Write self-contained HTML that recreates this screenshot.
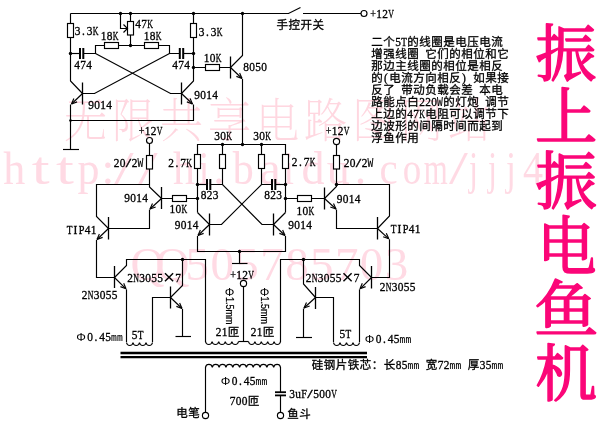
<!DOCTYPE html>
<html lang="zh"><head><meta charset="utf-8"><title>振上振电鱼机</title>
<style>
html,body{margin:0;padding:0;background:#fff}
svg{display:block;will-change:transform}
text{text-anchor:middle}
.r{font:10px "Liberation Sans",sans-serif;text-anchor:start;stroke:#000;stroke-width:.2px}
.lab .l{stroke:#000;stroke-width:.3px}
.lab .m{stroke:#000;stroke-width:.1px}
.lab .c{stroke:#000;stroke-width:.3px}
.lab .p{stroke-width:0}
.m{font:10px "Liberation Mono",monospace}
.l{font:11.5px "Liberation Serif",serif}
.c{font:11.5px "Liberation Sans","Noto Sans CJK SC",sans-serif}
.wm{fill:#ffdae4}
.wmc text{fill:#ffd7e0;font:200 48px "Liberation Serif","Noto Serif CJK SC",serif}
.wml text{font-family: "Liberation Serif","Noto Serif CJK SC",serif}
.title text{font:400 65px "Liberation Serif","Noto Serif CJK SC",serif;fill:#fb0678;stroke:#fb0678;stroke-width:1.7px;stroke-linejoin:round}
</style></head>
<body>
<svg width="614" height="435" viewBox="0 0 614 435">
<rect width="614" height="435" fill="#fff"/>
<g class="wm">
<g class="wmc">
<text transform="translate(85.5 137) scale(.9 .97)">无</text>
<text transform="translate(133.5 137) scale(.9 .97)">限</text>
<text transform="translate(181.5 137) scale(.9 .97)">共</text>
<text transform="translate(229.5 137) scale(.9 .97)">享</text>
<text transform="translate(277.5 137) scale(.9 .97)">电</text>
<text transform="translate(325.5 137) scale(.9 .97)">路</text>
<text transform="translate(373.5 137) scale(.9 .97)">图</text>
<text transform="translate(421.5 137) scale(.9 .97)">网</text>
<text transform="translate(469.5 137) scale(.9 .97)">站</text>
</g><g class="wml">
<text transform="translate(14.3 184) scale(0.957 1)" font-size="46">h</text>
<text transform="translate(40.7 184) scale(1.398 1)" font-size="46">t</text>
<text transform="translate(64.9 184) scale(1.398 1)" font-size="46">t</text>
<text transform="translate(88.5 184) scale(0.957 1)" font-size="46">p</text>
<text transform="translate(107.9 184) scale(1.000 1)" font-size="46">:</text>
<text transform="translate(123.9 184) scale(1.514 1)" font-size="46">/</text>
<text transform="translate(147.9 184) scale(1.514 1)" font-size="46">/</text>
<text transform="translate(184.0 184) scale(0.957 1)" font-size="46">h</text>
<text transform="translate(204.0 184) scale(0.823 1)" font-size="46">i</text>
<text transform="translate(219.0 184) scale(1.000 1)" font-size="46">.</text>
<text transform="translate(243.3 184) scale(0.913 1)" font-size="46">b</text>
<text transform="translate(270.1 184) scale(1.038 1)" font-size="46">a</text>
<text transform="translate(288.8 184) scale(0.815 1)" font-size="46">i</text>
<text transform="translate(313.0 184) scale(1.000 1)" font-size="46">d</text>
<text transform="translate(338.3 184) scale(1.000 1)" font-size="46">u</text>
<text transform="translate(360.4 184) scale(1.000 1)" font-size="46">.</text>
<text transform="translate(388.6 184) scale(0.889 1)" font-size="46">c</text>
<text transform="translate(412.0 184) scale(0.804 1)" font-size="46">o</text>
<text transform="translate(435.7 184) scale(0.669 1)" font-size="46">m</text>
<text transform="translate(458.4 184) scale(1.475 1)" font-size="46">/</text>
<text transform="translate(473.4 184) scale(0.701 1)" font-size="46">j</text>
<text transform="translate(492.4 184) scale(0.701 1)" font-size="46">j</text>
<text transform="translate(511.0 184) scale(0.771 1)" font-size="46">j</text>
<text transform="translate(533.0 184) scale(0.870 1)" font-size="46">4</text>
<text x="147.5" y="280" font-size="47">Q</text>
<text x="172.4" y="280" font-size="47">Q</text>
<text x="197.3" y="280" font-size="47">5</text>
<text x="222.2" y="280" font-size="47">0</text>
<text x="247.1" y="280" font-size="47">5</text>
<text x="272" y="280" font-size="47">7</text>
<text x="296.9" y="280" font-size="47">8</text>
<text x="321.8" y="280" font-size="47">5</text>
<text x="346.7" y="280" font-size="47">7</text>
<text x="371.6" y="280" font-size="47">0</text>
<text x="396.5" y="280" font-size="47">3</text>
</g></g>
<g fill="none" stroke="#000" stroke-width="1.15" stroke-linecap="butt">
<path d="M70.5 13.5 L288.5 13.5 L300.5 7.5" stroke-width="1.15" />
<path d="M303 13.5 L361 13.5" stroke-width="1.15" />
<circle cx="364" cy="13.5" r="3" fill="#fff"/>
<path d="M70.5 13.5 L70.5 81 L82.5 93.5" stroke-width="1.15" />
<rect x="67.5" y="23.5" width="6" height="14" fill="#fff"/>
<path d="M193.5 13.5 L193.5 81 L181.5 93.5" stroke-width="1.15" />
<rect x="190.5" y="23.5" width="6" height="14" fill="#fff"/>
<path d="M70.5 53.5 L79.5 53.5" stroke-width="1.15" />
<path d="M80 48 L80 59" stroke-width="2" />
<path d="M83.3 48 L83.3 59" stroke-width="2" />
<path d="M83.5 53.5 L95.5 53.5 L95.5 45.5 L169.5 45.5 L169.5 53.5 L179.5 53.5" stroke-width="1.15" />
<path d="M179.8 48 L179.8 59" stroke-width="2" />
<path d="M183.2 48 L183.2 59" stroke-width="2" />
<path d="M183.5 53.5 L193.5 53.5" stroke-width="1.15" />
<rect x="104.5" y="42.5" width="14" height="6" fill="#fff"/>
<rect x="144.5" y="42.5" width="14" height="6" fill="#fff"/>
<path d="M130.5 13.5 L130.5 45.5" stroke-width="1.15" />
<rect x="127.5" y="21.5" width="6" height="13.5" fill="#fff"/>
<path d="M120.5 13.5 L120.5 28.5 L127.5 28.5" stroke-width="1.15" />
<path d="M123.5 24.5 L127.5 28.5 L123.5 32.5" stroke-width="1.15" />
<path d="M95.5 53.5 L170.5 93.5 L181.5 93.5" stroke-width="1.15" />
<path d="M169.5 53.5 L94.5 93.5 L82.5 93.5" stroke-width="1.15" />
<path d="M82.5 82.5 L82.5 104.5" stroke-width="1.3" />
<path d="M82.5 93.5 L71.5 104" stroke-width="1.15" />
<path d="M71.5 104 L73.8764 98.4907" stroke-width="1.15" />
<path d="M71.5 104 L77.1139 101.882" stroke-width="1.15" />
<path d="M70.5 104.5 L70.5 149.5" stroke-width="1.15" />
<path d="M63 149.5 L79 149.5" stroke-width="1.15" />
<path d="M181.5 82.5 L181.5 104.5" stroke-width="1.3" />
<path d="M181.5 93.5 L192.5 104" stroke-width="1.15" />
<path d="M192.5 104 L186.886 101.882" stroke-width="1.15" />
<path d="M192.5 104 L190.124 98.4907" stroke-width="1.15" />
<path d="M193.5 104.5 L193.5 120.5 L70.5 120.5" stroke-width="1.15" />
<path d="M193.5 67.5 L230.5 67.5" stroke-width="1.15" />
<rect x="205.5" y="64.5" width="14" height="6" fill="#fff"/>
<path d="M230.5 56.5 L230.5 78.5" stroke-width="1.3" />
<path d="M242.5 13.5 L242.5 55.5 L230.5 67.5" stroke-width="1.15" />
<path d="M230.5 67.5 L242 78.5" stroke-width="1.15" />
<path d="M242 78.5 L236.388 76.3765" stroke-width="1.15" />
<path d="M242 78.5 L239.629 72.9882" stroke-width="1.15" />
<path d="M242.5 79 L242.5 144.5" stroke-width="1.15" />
<circle cx="70.5" cy="53.5" r="1.7" fill="#000" stroke="none"/>
<circle cx="193.5" cy="53.5" r="1.7" fill="#000" stroke="none"/>
<circle cx="130.5" cy="45.5" r="1.7" fill="#000" stroke="none"/>
<circle cx="120.5" cy="13.5" r="1.7" fill="#000" stroke="none"/>
<circle cx="130.5" cy="13.5" r="1.7" fill="#000" stroke="none"/>
<circle cx="193.5" cy="13.5" r="1.7" fill="#000" stroke="none"/>
<circle cx="193.5" cy="67.5" r="1.7" fill="#000" stroke="none"/>
<circle cx="242.5" cy="13.5" r="1.7" fill="#000" stroke="none"/>
<circle cx="70.5" cy="120.5" r="1.3" fill="#000" stroke="none"/>
<path d="M197.5 212.5 L197.5 144.5 L285.5 144.5 L285.5 212.5" stroke-width="1.15" />
<path d="M222.5 144.5 L222.5 184.5" stroke-width="1.15" />
<path d="M261.5 144.5 L261.5 184.5" stroke-width="1.15" />
<rect x="194.5" y="154.5" width="6" height="14" fill="#fff"/>
<rect x="219.5" y="154.5" width="6" height="14" fill="#fff"/>
<rect x="258.5" y="154.5" width="6" height="14" fill="#fff"/>
<rect x="282.5" y="154.5" width="6" height="14" fill="#fff"/>
<path d="M197.5 184.5 L207 184.5" stroke-width="1.15" />
<path d="M207 179 L207 190" stroke-width="2" />
<path d="M210.3 179 L210.3 190" stroke-width="2" />
<path d="M210.5 184.5 L222.5 184.5 L262 224.5 L273.5 224.5" stroke-width="1.15" />
<path d="M285.5 184.5 L275.5 184.5" stroke-width="1.15" />
<path d="M272 179 L272 190" stroke-width="2" />
<path d="M275.3 179 L275.3 190" stroke-width="2" />
<path d="M272 184.5 L261.5 184.5 L221.5 224.5 L209.5 224.5" stroke-width="1.15" />
<path d="M209.5 213.5 L209.5 235.5" stroke-width="1.3" />
<path d="M197.5 212.5 L209.5 224.5" stroke-width="1.15" />
<path d="M209.5 224.5 L198 235.5" stroke-width="1.15" />
<path d="M198 235.5 L200.371 229.988" stroke-width="1.15" />
<path d="M198 235.5 L203.612 233.377" stroke-width="1.15" />
<path d="M273.5 213.5 L273.5 235.5" stroke-width="1.3" />
<path d="M285.5 212.5 L273.5 224.5" stroke-width="1.15" />
<path d="M273.5 224.5 L285 235.5" stroke-width="1.15" />
<path d="M285 235.5 L279.388 233.377" stroke-width="1.15" />
<path d="M285 235.5 L282.629 229.988" stroke-width="1.15" />
<path d="M197.5 236 L197.5 251.5 L285.5 251.5 L285.5 236" stroke-width="1.15" />
<path d="M239.5 251.5 L239.5 263.5" stroke-width="1.15" />
<path d="M232 263.5 L247.5 263.5" stroke-width="1.15" />
<circle cx="242.5" cy="144.5" r="1.7" fill="#000" stroke="none"/>
<circle cx="222.5" cy="144.5" r="1.7" fill="#000" stroke="none"/>
<circle cx="261.5" cy="144.5" r="1.7" fill="#000" stroke="none"/>
<circle cx="197.5" cy="184.5" r="1.7" fill="#000" stroke="none"/>
<circle cx="285.5" cy="184.5" r="1.7" fill="#000" stroke="none"/>
<circle cx="197.5" cy="198.5" r="1.7" fill="#000" stroke="none"/>
<circle cx="285.5" cy="198.5" r="1.7" fill="#000" stroke="none"/>
<circle cx="239.5" cy="251.5" r="1.7" fill="#000" stroke="none"/>
<circle cx="149.5" cy="140.5" r="3" fill="#fff"/>
<path d="M149.5 143.5 L149.5 187 L161.5 198.5" stroke-width="1.15" />
<rect x="146.5" y="155.5" width="6" height="13.5" fill="#fff"/>
<path d="M149.5 184.5 L96.5 184.5 L96.5 216.5 L108.5 228.5" stroke-width="1.15" />
<path d="M161.5 187 L161.5 209" stroke-width="1.3" />
<path d="M161.5 198.5 L150 209" stroke-width="1.15" />
<path d="M150 209 L152.498 203.545" stroke-width="1.15" />
<path d="M150 209 L155.659 207.007" stroke-width="1.15" />
<path d="M149.5 209.5 L149.5 228.5 L108.5 228.5" stroke-width="1.15" />
<path d="M161.5 198.5 L197.5 198.5" stroke-width="1.15" />
<rect x="172.5" y="195.5" width="14" height="6" fill="#fff"/>
<path d="M108.5 217 L108.5 239.5" stroke-width="1.3" />
<path d="M108.5 228.5 L97 239.5" stroke-width="1.15" />
<path d="M97 239.5 L99.3707 233.988" stroke-width="1.15" />
<path d="M97 239.5 L102.612 237.377" stroke-width="1.15" />
<path d="M96.5 240 L96.5 277.5 L114.5 277.5" stroke-width="1.15" />
<path d="M114.5 266 L114.5 288" stroke-width="1.3" />
<path d="M114.5 277.5 L126.5 265.5 L126.5 259.5 L205.5 259.5 L205.5 342" stroke-width="1.15" />
<path d="M114.5 277.5 L126 288.8" stroke-width="1.15" />
<path d="M126 288.8 L120.417 286.601" stroke-width="1.15" />
<path d="M126 288.8 L123.704 283.257" stroke-width="1.15" />
<path d="M126.5 289.3 L126.5 342" stroke-width="1.15" />
<path d="M182.5 259.5 L182.5 285.5 L170.5 297.5" stroke-width="1.15" />
<path d="M170.5 286.5 L170.5 308.5" stroke-width="1.3" />
<path d="M170.5 297.5 L152.5 297.5 L152.5 342" stroke-width="1.15" />
<path d="M170.5 297.5 L182 308.5" stroke-width="1.15" />
<path d="M182 308.5 L176.388 306.377" stroke-width="1.15" />
<path d="M182 308.5 L179.629 302.988" stroke-width="1.15" />
<path d="M182.5 309 L182.5 336.5" stroke-width="1.15" />
<path d="M175.5 336.5 L191 336.5" stroke-width="1.15" />
<circle cx="182.5" cy="259.5" r="1.7" fill="#000" stroke="none"/>
<path d="M126.5 342.5 C127.15 346.49 132.35 346.49 133 342.5 C133.65 346.49 138.85 346.49 139.5 342.5 C140.15 346.49 145.35 346.49 146 342.5 C146.65 346.49 151.85 346.49 152.5 342.5"/>
<circle cx="336.5" cy="141.5" r="3.1" fill="#fff"/>
<path d="M336.5 144.5 L336.5 186.5 L324.5 198.5" stroke-width="1.15" />
<rect x="333.5" y="155.5" width="6" height="13.5" fill="#fff"/>
<path d="M336.5 184.5 L389.5 184.5 L389.5 216 L377.5 228.5" stroke-width="1.15" />
<path d="M324.5 187.5 L324.5 209.5" stroke-width="1.3" />
<path d="M324.5 198.5 L336 209" stroke-width="1.15" />
<path d="M336 209 L330.341 207.007" stroke-width="1.15" />
<path d="M336 209 L333.502 203.545" stroke-width="1.15" />
<path d="M336.5 209.5 L336.5 228.5 L377.5 228.5" stroke-width="1.15" />
<path d="M285.5 198.5 L324.5 198.5" stroke-width="1.15" />
<rect x="297.5" y="195.5" width="14" height="6" fill="#fff"/>
<path d="M377.5 217 L377.5 239.5" stroke-width="1.3" />
<path d="M377.5 228.5 L388.8 238.8" stroke-width="1.15" />
<path d="M388.8 238.8 L383.139 236.812" stroke-width="1.15" />
<path d="M388.8 238.8 L386.297 233.347" stroke-width="1.15" />
<path d="M389.5 239.3 L389.5 277.5 L371.5 277.5" stroke-width="1.15" />
<path d="M371.5 266 L371.5 288.5" stroke-width="1.3" />
<path d="M371.5 277.5 L359.5 265.5 L359.5 259.5 L280.5 259.5 L280.5 342" stroke-width="1.15" />
<path d="M371.5 277.5 L360 288.8" stroke-width="1.15" />
<path d="M360 288.8 L362.296 283.257" stroke-width="1.15" />
<path d="M360 288.8 L365.583 286.601" stroke-width="1.15" />
<path d="M359.5 289.3 L359.5 342" stroke-width="1.15" />
<path d="M303.5 259.5 L303.5 284 L315.5 297.5" stroke-width="1.15" />
<path d="M315.5 287 L315.5 309" stroke-width="1.3" />
<path d="M315.5 297.5 L333.5 297.5 L333.5 342" stroke-width="1.15" />
<path d="M315.5 297.5 L304 308" stroke-width="1.15" />
<path d="M304 308 L306.498 302.545" stroke-width="1.15" />
<path d="M304 308 L309.659 306.007" stroke-width="1.15" />
<path d="M303.5 308.5 L303.5 337.5" stroke-width="1.15" />
<path d="M296 337.5 L312 337.5" stroke-width="1.15" />
<circle cx="303.5" cy="259.5" r="1.7" fill="#000" stroke="none"/>
<circle cx="336.5" cy="184.5" r="1.7" fill="#000" stroke="none"/>
<path d="M333.5 342.5 C334.15 346.49 339.35 346.49 340 342.5 C340.65 346.49 345.85 346.49 346.5 342.5 C347.15 346.49 352.35 346.49 353 342.5 C353.65 346.49 358.85 346.49 359.5 342.5"/>
<circle cx="243.5" cy="283.5" r="3.1" fill="#fff"/>
<path d="M243.5 286.5 L243.5 341.5" stroke-width="1.15" />
<path d="M205.5 341.5 C206.16 345.49 211.44 345.49 212.1 341.5 C212.76 345.49 218.04 345.49 218.7 341.5 C219.36 345.49 224.64 345.49 225.3 341.5 C225.96 345.49 231.24 345.49 231.9 341.5 C232.56 345.49 237.84 345.49 238.5 341.5"/>
<path d="M238.5 341.5 L248.5 341.5" stroke-width="1.15" />
<path d="M248.5 341.5 C249.14 345.49 254.26 345.49 254.9 341.5 C255.54 345.49 260.66 345.49 261.3 341.5 C261.94 345.49 267.06 345.49 267.7 341.5 C268.34 345.49 273.46 345.49 274.1 341.5 C274.74 345.49 279.86 345.49 280.5 341.5"/>
<path d="M120.5 353 L367 353" stroke-width="2.3" />
<path d="M120.5 357.1 L367 357.1" stroke-width="2.3" />
<path d="M205.5 367.3 C206.182 363.443 211.636 363.443 212.318 367.3 C213 363.443 218.455 363.443 219.136 367.3 C219.818 363.443 225.273 363.443 225.955 367.3 C226.636 363.443 232.091 363.443 232.773 367.3 C233.455 363.443 238.909 363.443 239.591 367.3 C240.273 363.443 245.727 363.443 246.409 367.3 C247.091 363.443 252.545 363.443 253.227 367.3 C253.909 363.443 259.364 363.443 260.045 367.3 C260.727 363.443 266.182 363.443 266.864 367.3 C267.545 363.443 273 363.443 273.682 367.3 C274.364 363.443 279.818 363.443 280.5 367.3"/>
<path d="M205.5 367 L205.5 412" stroke-width="1.15" />
<circle cx="205.5" cy="415.5" r="3.1" fill="#fff"/>
<path d="M280.5 367 L280.5 392" stroke-width="1.15" />
<path d="M275 392.2 L286 392.2" stroke-width="1.8" />
<path d="M275 395.4 L286 395.4" stroke-width="1.8" />
<path d="M280.5 395.5 L280.5 412.5" stroke-width="1.15" />
<circle cx="280.5" cy="415.5" r="3.1" fill="#fff"/>
</g>
<g class="lab">
<text transform="translate(77.5 35) scale(0.991 1)" class="l">3</text><text x="83.5" y="35" class="l">.</text><text transform="translate(89.5 35) scale(0.991 1)" class="l">3</text><text transform="translate(95.5 35) scale(0.686 1)" class="l">K</text>
<text transform="translate(201.5 35.5) scale(0.991 1)" class="l">3</text><text x="207.5" y="35.5" class="l">.</text><text transform="translate(213.5 35.5) scale(0.991 1)" class="l">3</text><text transform="translate(219.5 35.5) scale(0.686 1)" class="l">K</text>
<text transform="translate(138 27.5) scale(0.991 1)" class="l">4</text><text transform="translate(144 27.5) scale(0.991 1)" class="l">7</text><text transform="translate(150 27.5) scale(0.686 1)" class="l">K</text>
<text transform="translate(103.5 40) scale(0.991 1)" class="l">1</text><text transform="translate(109.5 40) scale(0.991 1)" class="l">8</text><text transform="translate(115.5 40) scale(0.686 1)" class="l">K</text>
<text transform="translate(146.5 40) scale(0.991 1)" class="l">1</text><text transform="translate(152.5 40) scale(0.991 1)" class="l">8</text><text transform="translate(158.5 40) scale(0.686 1)" class="l">K</text>
<text transform="translate(77 68.6) scale(0.991 1)" class="l">4</text><text transform="translate(83 68.6) scale(0.991 1)" class="l">7</text><text transform="translate(89 68.6) scale(0.991 1)" class="l">4</text>
<text transform="translate(175 68.6) scale(0.991 1)" class="l">4</text><text transform="translate(181 68.6) scale(0.991 1)" class="l">7</text><text transform="translate(187 68.6) scale(0.991 1)" class="l">4</text>
<text transform="translate(91 109) scale(0.991 1)" class="l">9</text><text transform="translate(97 109) scale(0.991 1)" class="l">0</text><text transform="translate(103 109) scale(0.991 1)" class="l">1</text><text transform="translate(109 109) scale(0.991 1)" class="l">4</text>
<text transform="translate(197 98.5) scale(0.991 1)" class="l">9</text><text transform="translate(203 98.5) scale(0.991 1)" class="l">0</text><text transform="translate(209 98.5) scale(0.991 1)" class="l">1</text><text transform="translate(215 98.5) scale(0.991 1)" class="l">4</text>
<text transform="translate(206.5 61.5) scale(0.991 1)" class="l">1</text><text transform="translate(212.5 61.5) scale(0.991 1)" class="l">0</text><text transform="translate(218.5 61.5) scale(0.686 1)" class="l">K</text>
<text transform="translate(246 70.5) scale(0.991 1)" class="l">8</text><text transform="translate(252 70.5) scale(0.991 1)" class="l">0</text><text transform="translate(258 70.5) scale(0.991 1)" class="l">5</text><text transform="translate(264 70.5) scale(0.991 1)" class="l">0</text>
<text transform="translate(373 17.5) scale(0.879 1)" class="l">+</text><text transform="translate(379 17.5) scale(0.991 1)" class="l">1</text><text transform="translate(385 17.5) scale(0.991 1)" class="l">2</text><text transform="translate(391 17.5) scale(0.686 1)" class="l">V</text>
<text x="282.3" y="28.8" class="c">手</text><text x="294.3" y="28.8" class="c">控</text><text x="306.3" y="28.8" class="c">开</text><text x="318.3" y="28.8" class="c">关</text>
<text transform="translate(141.5 134.5) scale(0.879 1)" class="l">+</text><text transform="translate(147.5 134.5) scale(0.991 1)" class="l">1</text><text transform="translate(153.5 134.5) scale(0.991 1)" class="l">2</text><text transform="translate(159.5 134.5) scale(0.686 1)" class="l">V</text>
<text transform="translate(328.5 134.5) scale(0.879 1)" class="l">+</text><text transform="translate(334.5 134.5) scale(0.991 1)" class="l">1</text><text transform="translate(340.5 134.5) scale(0.991 1)" class="l">2</text><text transform="translate(346.5 134.5) scale(0.686 1)" class="l">V</text>
<text transform="translate(233 278.5) scale(0.879 1)" class="l">+</text><text transform="translate(239 278.5) scale(0.991 1)" class="l">1</text><text transform="translate(245 278.5) scale(0.991 1)" class="l">2</text><text transform="translate(251 278.5) scale(0.686 1)" class="l">V</text>
<text transform="translate(116.5 167) scale(0.991 1)" class="l">2</text><text transform="translate(122.5 167) scale(0.991 1)" class="l">0</text><text transform="translate(128.5 167) scale(1.7 1)" class="l">/</text><text transform="translate(134.5 167) scale(0.991 1)" class="l">2</text><text transform="translate(140.5 167) scale(.97 1.2)" class="m">W</text>
<text transform="translate(346.5 166.5) scale(0.991 1)" class="l">2</text><text transform="translate(352.5 166.5) scale(0.991 1)" class="l">0</text><text transform="translate(358.5 166.5) scale(1.7 1)" class="l">/</text><text transform="translate(364.5 166.5) scale(0.991 1)" class="l">2</text><text transform="translate(370.5 166.5) scale(.97 1.2)" class="m">W</text>
<text transform="translate(171 166.5) scale(0.991 1)" class="l">2</text><text x="177" y="166.5" class="l">.</text><text transform="translate(183 166.5) scale(0.991 1)" class="l">7</text><text transform="translate(189 166.5) scale(0.686 1)" class="l">K</text>
<text transform="translate(294.5 166) scale(0.991 1)" class="l">2</text><text x="300.5" y="166" class="l">.</text><text transform="translate(306.5 166) scale(0.991 1)" class="l">7</text><text transform="translate(312.5 166) scale(0.686 1)" class="l">K</text>
<text transform="translate(217 139.5) scale(0.991 1)" class="l">3</text><text transform="translate(223 139.5) scale(0.991 1)" class="l">0</text><text transform="translate(229 139.5) scale(0.686 1)" class="l">K</text>
<text transform="translate(256 139.5) scale(0.991 1)" class="l">3</text><text transform="translate(262 139.5) scale(0.991 1)" class="l">0</text><text transform="translate(268 139.5) scale(0.686 1)" class="l">K</text>
<text transform="translate(203.5 199.3) scale(0.991 1)" class="l">8</text><text transform="translate(209.5 199.3) scale(0.991 1)" class="l">2</text><text transform="translate(215.5 199.3) scale(0.991 1)" class="l">3</text>
<text transform="translate(267 199.3) scale(0.991 1)" class="l">8</text><text transform="translate(273 199.3) scale(0.991 1)" class="l">2</text><text transform="translate(279 199.3) scale(0.991 1)" class="l">3</text>
<text transform="translate(127 202) scale(0.991 1)" class="l">9</text><text transform="translate(133 202) scale(0.991 1)" class="l">0</text><text transform="translate(139 202) scale(0.991 1)" class="l">1</text><text transform="translate(145 202) scale(0.991 1)" class="l">4</text>
<text transform="translate(339.5 202.5) scale(0.991 1)" class="l">9</text><text transform="translate(345.5 202.5) scale(0.991 1)" class="l">0</text><text transform="translate(351.5 202.5) scale(0.991 1)" class="l">1</text><text transform="translate(357.5 202.5) scale(0.991 1)" class="l">4</text>
<text transform="translate(172.3 213.4) scale(0.991 1)" class="l">1</text><text transform="translate(178.3 213.4) scale(0.991 1)" class="l">0</text><text transform="translate(184.3 213.4) scale(0.686 1)" class="l">K</text>
<text transform="translate(299.3 214.5) scale(0.991 1)" class="l">1</text><text transform="translate(305.3 214.5) scale(0.991 1)" class="l">0</text><text transform="translate(311.3 214.5) scale(0.686 1)" class="l">K</text>
<text transform="translate(177.5 228.5) scale(0.991 1)" class="l">9</text><text transform="translate(183.5 228.5) scale(0.991 1)" class="l">0</text><text transform="translate(189.5 228.5) scale(0.991 1)" class="l">1</text><text transform="translate(195.5 228.5) scale(0.991 1)" class="l">4</text>
<text transform="translate(291 229) scale(0.991 1)" class="l">9</text><text transform="translate(297 229) scale(0.991 1)" class="l">0</text><text transform="translate(303 229) scale(0.991 1)" class="l">1</text><text transform="translate(309 229) scale(0.991 1)" class="l">4</text>
<text transform="translate(69.5 233.5) scale(0.812 1)" class="l">T</text><text x="75.5" y="233.5" class="l">I</text><text transform="translate(81.5 233.5) scale(0.891 1)" class="l">P</text><text transform="translate(87.5 233.5) scale(0.991 1)" class="l">4</text><text transform="translate(93.5 233.5) scale(0.991 1)" class="l">1</text>
<text transform="translate(393.5 232.5) scale(0.812 1)" class="l">T</text><text x="399.5" y="232.5" class="l">I</text><text transform="translate(405.5 232.5) scale(0.891 1)" class="l">P</text><text transform="translate(411.5 232.5) scale(0.991 1)" class="l">4</text><text transform="translate(417.5 232.5) scale(0.991 1)" class="l">1</text>
<text transform="translate(130 282) scale(0.991 1)" class="l">2</text><text transform="translate(136 282) scale(0.686 1)" class="l">N</text><text transform="translate(142 282) scale(0.991 1)" class="l">3</text><text transform="translate(148 282) scale(0.991 1)" class="l">0</text><text transform="translate(154 282) scale(0.991 1)" class="l">5</text><text transform="translate(160 282) scale(0.991 1)" class="l">5</text><text transform="translate(169 284.3) scale(1.8 1.8)" class="c p">×</text><text transform="translate(178 282) scale(0.991 1)" class="l">7</text>
<text transform="translate(308.5 282) scale(0.991 1)" class="l">2</text><text transform="translate(314.5 282) scale(0.686 1)" class="l">N</text><text transform="translate(320.5 282) scale(0.991 1)" class="l">3</text><text transform="translate(326.5 282) scale(0.991 1)" class="l">0</text><text transform="translate(332.5 282) scale(0.991 1)" class="l">5</text><text transform="translate(338.5 282) scale(0.991 1)" class="l">5</text><text transform="translate(347.5 284.3) scale(1.8 1.8)" class="c p">×</text><text transform="translate(356.5 282) scale(0.991 1)" class="l">7</text>
<text transform="translate(84.5 299) scale(0.991 1)" class="l">2</text><text transform="translate(90.5 299) scale(0.686 1)" class="l">N</text><text transform="translate(96.5 299) scale(0.991 1)" class="l">3</text><text transform="translate(102.5 299) scale(0.991 1)" class="l">0</text><text transform="translate(108.5 299) scale(0.991 1)" class="l">5</text><text transform="translate(114.5 299) scale(0.991 1)" class="l">5</text>
<text transform="translate(382.5 290.5) scale(0.991 1)" class="l">2</text><text transform="translate(388.5 290.5) scale(0.686 1)" class="l">N</text><text transform="translate(394.5 290.5) scale(0.991 1)" class="l">3</text><text transform="translate(400.5 290.5) scale(0.991 1)" class="l">0</text><text transform="translate(406.5 290.5) scale(0.991 1)" class="l">5</text><text transform="translate(412.5 290.5) scale(0.991 1)" class="l">5</text>
<text transform="translate(81 341) scale(1.05 .88)" class="c p">Φ</text><text transform="translate(90 341) scale(0.991 1)" class="l">0</text><text x="96" y="341" class="l">.</text><text transform="translate(102 341) scale(0.991 1)" class="l">4</text><text transform="translate(108 341) scale(0.991 1)" class="l">5</text><text transform="translate(114 341) scale(.97 1)" class="m">m</text><text transform="translate(120 341) scale(.97 1)" class="m">m</text>
<text transform="translate(369.5 343) scale(1.05 .88)" class="c p">Φ</text><text transform="translate(378.5 343) scale(0.991 1)" class="l">0</text><text x="384.5" y="343" class="l">.</text><text transform="translate(390.5 343) scale(0.991 1)" class="l">4</text><text transform="translate(396.5 343) scale(0.991 1)" class="l">5</text><text transform="translate(402.5 343) scale(.97 1)" class="m">m</text><text transform="translate(408.5 343) scale(.97 1)" class="m">m</text>
<text transform="translate(225.5 384.5) scale(1.05 .88)" class="c p">Φ</text><text transform="translate(234.5 384.5) scale(0.991 1)" class="l">0</text><text x="240.5" y="384.5" class="l">.</text><text transform="translate(246.5 384.5) scale(0.991 1)" class="l">4</text><text transform="translate(252.5 384.5) scale(0.991 1)" class="l">5</text><text transform="translate(258.5 384.5) scale(.97 1)" class="m">m</text><text transform="translate(264.5 384.5) scale(.97 1)" class="m">m</text>
<text transform="translate(134.5 339) scale(0.991 1)" class="l">5</text><text transform="translate(140.5 339) scale(0.812 1)" class="l">T</text>
<text transform="translate(342.3 337.5) scale(0.991 1)" class="l">5</text><text transform="translate(348.3 337.5) scale(0.812 1)" class="l">T</text>
<text transform="translate(218.5 335.5) scale(0.991 1)" class="l">2</text><text transform="translate(224.5 335.5) scale(0.991 1)" class="l">1</text><text x="233.5" y="335.5" class="c">匝</text>
<text transform="translate(253.5 335.5) scale(0.991 1)" class="l">2</text><text transform="translate(259.5 335.5) scale(0.991 1)" class="l">1</text><text x="268.5" y="335.5" class="c">匝</text>
<text transform="translate(232.5 404.5) scale(0.991 1)" class="l">7</text><text transform="translate(238.5 404.5) scale(0.991 1)" class="l">0</text><text transform="translate(244.5 404.5) scale(0.991 1)" class="l">0</text><text x="253.5" y="404.5" class="c">匝</text>
<text transform="translate(292 397.8) scale(0.991 1)" class="l">3</text><text transform="translate(298 397.8) scale(0.991 1)" class="l">u</text><text transform="translate(304 397.8) scale(0.891 1)" class="l">F</text><text transform="translate(310 397.8) scale(1.7 1)" class="l">/</text><text transform="translate(316 397.8) scale(0.991 1)" class="l">5</text><text transform="translate(322 397.8) scale(0.991 1)" class="l">0</text><text transform="translate(328 397.8) scale(0.991 1)" class="l">0</text><text transform="translate(334 397.8) scale(0.686 1)" class="l">V</text>
<text x="182" y="417" class="c">电</text><text x="194" y="417" class="c">笔</text>
<text x="293" y="418" class="c">鱼</text><text x="305" y="418" class="c">斗</text>
<text x="317.5" y="369" class="c">硅</text><text x="329.5" y="369" class="c">钢</text><text x="341.5" y="369" class="c">片</text><text x="353.5" y="369" class="c">铁</text><text x="365.5" y="369" class="c">芯</text><text x="377.5" y="369" class="c">：</text><text x="389.5" y="369" class="c">长</text><text transform="translate(398.5 369) scale(0.991 1)" class="l">8</text><text transform="translate(404.5 369) scale(0.991 1)" class="l">5</text><text transform="translate(410.5 369) scale(.97 1)" class="m">m</text><text transform="translate(416.5 369) scale(.97 1)" class="m">m</text><text x="431.5" y="369" class="c">宽</text><text transform="translate(440.5 369) scale(0.991 1)" class="l">7</text><text transform="translate(446.5 369) scale(0.991 1)" class="l">2</text><text transform="translate(452.5 369) scale(.97 1)" class="m">m</text><text transform="translate(458.5 369) scale(.97 1)" class="m">m</text><text x="473.5" y="369" class="c">厚</text><text transform="translate(482.5 369) scale(0.991 1)" class="l">3</text><text transform="translate(488.5 369) scale(0.991 1)" class="l">5</text><text transform="translate(494.5 369) scale(.97 1)" class="m">m</text><text transform="translate(500.5 369) scale(.97 1)" class="m">m</text>
<text transform="translate(229.5 296.3) scale(1.05 .88)" class="c p">Φ</text><text class="r" transform="translate(226.3 297) rotate(90) scale(.9 1)">1.5mm</text>
<text transform="translate(264.5 295.8) scale(1.05 .88)" class="c p">Φ</text><text class="r" transform="translate(260.5 296.5) rotate(90) scale(.9 1)">1.5mm</text>
</g>
<g class="lab para">
<text x="377" y="45.9" class="c">二</text><text x="389" y="45.9" class="c">个</text><text transform="translate(398 45.9) scale(0.991 1)" class="l">5</text><text transform="translate(404 45.9) scale(0.812 1)" class="l">T</text><text x="413" y="45.9" class="c">的</text><text x="425" y="45.9" class="c">线</text><text x="437" y="45.9" class="c">圈</text><text x="449" y="45.9" class="c">是</text><text x="461" y="45.9" class="c">电</text><text x="473" y="45.9" class="c">压</text><text x="485" y="45.9" class="c">电</text><text x="497" y="45.9" class="c">流</text>
<text x="377" y="57.9" class="c">增</text><text x="389" y="57.9" class="c">强</text><text x="401" y="57.9" class="c">线</text><text x="413" y="57.9" class="c">圈</text><text x="431" y="57.9" class="c">它</text><text x="443" y="57.9" class="c">们</text><text x="455" y="57.9" class="c">的</text><text x="467" y="57.9" class="c">相</text><text x="479" y="57.9" class="c">位</text><text x="491" y="57.9" class="c">和</text><text x="503" y="57.9" class="c">它</text>
<text x="377" y="69.9" class="c">那</text><text x="389" y="69.9" class="c">边</text><text x="401" y="69.9" class="c">主</text><text x="413" y="69.9" class="c">线</text><text x="425" y="69.9" class="c">圈</text><text x="437" y="69.9" class="c">的</text><text x="449" y="69.9" class="c">相</text><text x="461" y="69.9" class="c">位</text><text x="473" y="69.9" class="c">是</text><text x="485" y="69.9" class="c">相</text><text x="497" y="69.9" class="c">反</text>
<text x="377" y="81.9" class="c">的</text><text x="386" y="81.9" class="l">(</text><text x="395" y="81.9" class="c">电</text><text x="407" y="81.9" class="c">流</text><text x="419" y="81.9" class="c">方</text><text x="431" y="81.9" class="c">向</text><text x="443" y="81.9" class="c">相</text><text x="455" y="81.9" class="c">反</text><text x="464" y="81.9" class="l">)</text><text x="479" y="81.9" class="c">如</text><text x="491" y="81.9" class="c">果</text><text x="503" y="81.9" class="c">接</text>
<text x="377" y="93.9" class="c">反</text><text x="389" y="93.9" class="c">了</text><text x="407" y="93.9" class="c">带</text><text x="419" y="93.9" class="c">动</text><text x="431" y="93.9" class="c">负</text><text x="443" y="93.9" class="c">载</text><text x="455" y="93.9" class="c">会</text><text x="467" y="93.9" class="c">差</text><text x="485" y="93.9" class="c">本</text><text x="497" y="93.9" class="c">电</text>
<text x="377" y="105.9" class="c">路</text><text x="389" y="105.9" class="c">能</text><text x="401" y="105.9" class="c">点</text><text x="413" y="105.9" class="c">白</text><text transform="translate(422 105.9) scale(0.991 1)" class="l">2</text><text transform="translate(428 105.9) scale(0.991 1)" class="l">2</text><text transform="translate(434 105.9) scale(0.991 1)" class="l">0</text><text transform="translate(440 105.9) scale(.97 1.2)" class="m">W</text><text x="449" y="105.9" class="c">的</text><text x="461" y="105.9" class="c">灯</text><text x="473" y="105.9" class="c">炮</text><text x="491" y="105.9" class="c">调</text><text x="503" y="105.9" class="c">节</text>
<text x="377" y="117.9" class="c">上</text><text x="389" y="117.9" class="c">边</text><text x="401" y="117.9" class="c">的</text><text transform="translate(410 117.9) scale(0.991 1)" class="l">4</text><text transform="translate(416 117.9) scale(0.991 1)" class="l">7</text><text transform="translate(422 117.9) scale(0.686 1)" class="l">K</text><text x="431" y="117.9" class="c">电</text><text x="443" y="117.9" class="c">阻</text><text x="455" y="117.9" class="c">可</text><text x="467" y="117.9" class="c">以</text><text x="479" y="117.9" class="c">调</text><text x="491" y="117.9" class="c">节</text><text x="503" y="117.9" class="c">下</text>
<text x="377" y="129.9" class="c">边</text><text x="389" y="129.9" class="c">波</text><text x="401" y="129.9" class="c">形</text><text x="413" y="129.9" class="c">的</text><text x="425" y="129.9" class="c">间</text><text x="437" y="129.9" class="c">隔</text><text x="449" y="129.9" class="c">时</text><text x="461" y="129.9" class="c">间</text><text x="473" y="129.9" class="c">而</text><text x="485" y="129.9" class="c">起</text><text x="497" y="129.9" class="c">到</text>
<text x="377" y="141.9" class="c">浮</text><text x="389" y="141.9" class="c">鱼</text><text x="401" y="141.9" class="c">作</text><text x="413" y="141.9" class="c">用</text>
</g>
<g class="title">
<text transform="translate(566.00 75.82) scale(0.9355 0.9508)">振</text>
<text transform="translate(566.25 138.68) scale(0.9583 0.9474)">上</text>
<text transform="translate(566.25 203.77) scale(0.9435 0.9590)">振</text>
<text transform="translate(566.77 269.11) scale(0.9107 0.9746)">电</text>
<text transform="translate(566.25 331.27) scale(0.9914 0.9407)">鱼</text>
<text transform="translate(566.02 395.77) scale(0.9508 0.9590)">机</text>
</g>
</svg>
</body></html>
